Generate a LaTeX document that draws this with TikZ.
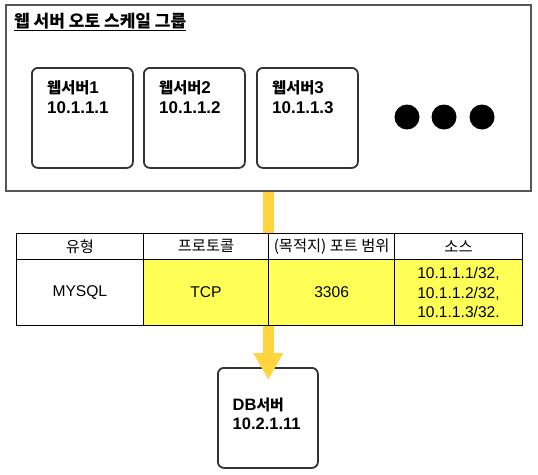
\documentclass[tikz,border=0pt]{standalone}
\usepackage{fontspec}
\setmainfont{Liberation Sans}
\newfontfamily\kr[Scale=0.9]{Noto Sans CJK KR}
\usetikzlibrary{arrows.meta}
\definecolor{ylwfill}{HTML}{FFFF55}
\definecolor{ylwline}{HTML}{FFD43E}
\definecolor{outerc}{HTML}{555555}
\definecolor{boxc}{HTML}{333333}
\begin{document}
\begin{tikzpicture}[x=1pt,y=-1pt,
  outerbox/.style={draw=outerc, line width=2pt, inner sep=0, minimum width=525pt, minimum height=186pt, anchor=north west},
  srvbox/.style={draw=boxc, line width=1.8pt, rounded corners=6pt, minimum width=101pt, minimum height=100pt, inner sep=0, anchor=north west},
  srvlbl/.style={font=\fontsize{17}{20}\selectfont\bfseries, align=left, anchor=north west, inner sep=0},
  cell/.style={draw=black, line width=1pt, anchor=north west, inner sep=0, align=center},
  hdrcell/.style={cell, minimum height=26.5pt, font=\fontsize{17}{19}\selectfont\kr},
  bodycell/.style={cell, minimum height=66pt, font=\fontsize{15.6}{19.5}\selectfont},
  dot/.style={circle, fill=black, minimum size=25pt, inner sep=0},
  conn/.style={draw=ylwline, line width=10.5pt},
]
\useasboundingbox (0,0) rectangle (538,474);
% outer group
\node[outerbox] (grp) at (5,4) {};
\node[anchor=base west, inner sep=0, font=\fontsize{18.9}{20}\selectfont\bfseries] (title) at (14,27) {\underline{\kr 웹 서버 오토 스케일 그룹}};
% servers
\node[srvbox] (w1) at (31,67) {};
\node[srvbox] (w2) at (143,67) {};
\node[srvbox] (w3) at (256,67) {};
\node[srvlbl] (w1t) at ([shift={(16,13.5)}]w1.north west) {{\kr 웹서버}1\\10.1.1.1};
\node[srvlbl] (w2t) at ([shift={(16,13.5)}]w2.north west) {{\kr 웹서버}2\\10.1.1.2};
\node[srvlbl] (w3t) at ([shift={(16,13.5)}]w3.north west) {{\kr 웹서버}3\\10.1.1.3};
\node[dot] (d1) at (407,117) {};
\node[dot] (d2) at (444,117) {};
\node[dot] (d3) at (482,117) {};
% table
\node[hdrcell, minimum width=126.7pt] (h1) at (16,232.5) {유형};
\node[hdrcell, minimum width=125.6pt] (h2) at (142.7,232.5) {프로토콜};
\node[hdrcell, minimum width=125.7pt] (h3) at (268.3,232.5) {(목적지) 포트 범위};
\node[hdrcell, minimum width=128pt] (h4) at (394,232.5) {소스};
\node[bodycell, minimum width=126.7pt] (b1) at (16,259) {MYSQL};
\node[bodycell, minimum width=125.6pt, fill=ylwfill] (b2) at (142.7,259) {TCP};
\node[bodycell, minimum width=125.7pt, fill=ylwfill] (b3) at (268.3,259) {3306};
\node[bodycell, minimum width=128pt, fill=ylwfill] (b4) at (394,259) {10.1.1.1/32,\\10.1.1.2/32,\\10.1.1.3/32.};
% db
\node[srvbox, minimum width=100pt] (db) at (217,367) {};
\node[srvlbl, font=\fontsize{16.5}{19.5}\selectfont\bfseries] (dbt) at ([shift={(15.5,30.5)}]db.north west) {DB{\kr 서버}\\10.2.1.11};
% connectors
\coordinate (tip) at ([shift={(0,13)}]db.north);
\draw[conn] (grp.south -| h3.north west) -- (h3.north west);
\draw[conn, -{Triangle[width=28pt,length=27pt]}] (b3.south west) -- (b3.south west |- tip);
\end{tikzpicture}
\end{document}
